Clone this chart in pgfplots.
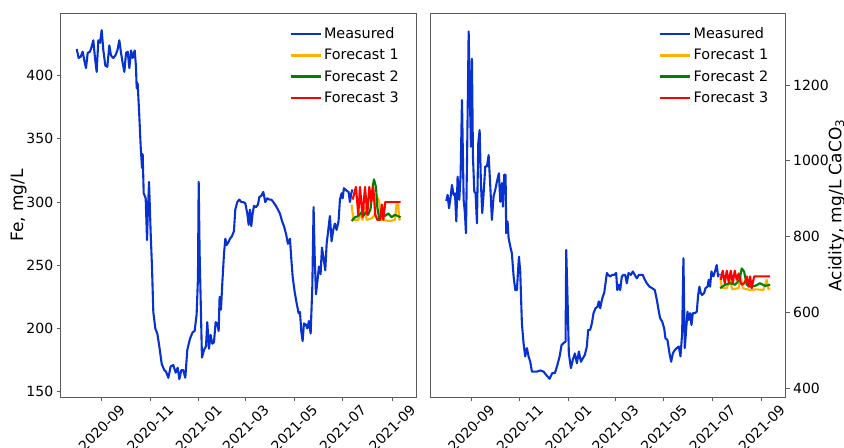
\documentclass[border=0pt]{standalone}
\usepackage{fontspec}
\setmainfont{DejaVu Sans}
\usepackage{pgfplots}
\usepackage{pgfplotstable}
\pgfplotsset{compat=1.18}
\definecolor{meas}{RGB}{8,50,208}
\definecolor{fone}{RGB}{255,176,0}
\definecolor{ftwo}{RGB}{0,128,0}
\definecolor{fthree}{RGB}{255,0,0}
\definecolor{frame}{RGB}{90,90,90}

\pgfplotstableread{
d v
-31.4 421
-28.9 414
-26.4 415
-23.9 419
-21.8 412
-19.7 406
-17.6 418
-14.7 419
-12.6 423
-10.5 428
-8.4 414
-6.3 403
-4.2 428
-2.1 426
0 436
2.1 420
4.6 408
7.1 407
9.6 424
11.7 416
14.7 414
17.2 416
19.7 420
22.2 428
24.3 418
26.4 410
28.5 403
30.6 418
32.7 419
34.8 406
36.9 420
38.9 414
41.5 420
43.1 407
44.0 390
45.2 394
47.3 368
49.0 344
50.7 327
51.5 338
52.8 307
55.3 303
57.0 270
57.8 288
59.5 316
61.6 275
63.2 249
64.9 213
67.4 200
69.9 196
72.4 186
75.4 172
78.7 167
80.8 166
83.8 161
86.7 170
90.0 171
93.0 165
95.5 169
97.6 160
100.1 167
102.6 167
105.1 161
107.6 183
111.0 192
114.3 197
116.8 198
119.3 211
121.0 240
121.9 316
123.1 259
124.4 223
126.0 177
128.6 183
131.1 186
132.7 205
134.8 184
136.9 195
139.0 188
141.1 189
143.2 205
145.3 204
147.0 198
148.2 225
149.9 215
151.6 236
153.7 259
155.4 271
157.0 266
159.1 268
161.2 271
163.7 273
166.2 277
167.9 294
170.4 300
172.9 302
175.5 300
178.0 300
180.5 299
183.0 291
184.7 282
186.3 294
188.0 281
189.7 291
191.4 297
193.9 296
196.4 298
198.1 304
200.6 305
203.1 308
205.6 300
208.1 303
210.6 302
213.2 302
215.7 300
219.0 297
221.5 294
224.0 291
226.6 285
229.1 281
231.6 275
234.1 267
236.6 271
238.3 255
240.0 241
242.5 229
245.0 220
247.5 212
249.2 213
250.8 198
252.5 190
254.2 204
256.7 203
258.4 200
260.5 206
262.6 196
264.7 233
266.3 296
267.6 259
269.3 227
270.9 236
273.0 249
275.1 243
276.8 264
278.5 257
281.0 246
282.7 267
284.8 278
286.8 289
288.9 269
291.0 278
293.1 283
295.2 278
297.7 285
299.4 302
301.5 307
302.8 303
304.4 311
307.8 309
310.3 308
312.0 300
313.7 307
315.3 310
}\femeas

\pgfplotstableread{
d v
314.1 298
316.2 286
322.5 286
324.6 290
327.9 286
330.9 296
332.9 286
339.2 287
343.4 290
345.5 305
348.9 300
351.0 286
362.3 285
368.5 286
370.6 298
372.7 298
373.9 286
375.6 287
}\feone

\pgfplotstableread{
d v
314.1 285
318.3 288
322.5 289
326.6 292
328.8 289
332.1 292
335.0 290
338.0 295
340.5 312
342.2 318
344.7 312
346.4 296
348.9 286
351.8 290
356.0 289
360.2 291
364.4 288
368.5 290
375.6 288
}\fetwo

\pgfplotstableread{
d v
315.4 302
319.5 312
322.5 290
324.6 312
327.9 288
330.9 312
333.8 290
336.3 312
338.8 300
341.3 312
343.8 290
346.4 286
349.7 286
352.2 298
354.0 286
356.4 300
375.6 300
}\fethree

\pgfplotstableread{
d v
-31.4 894
-29.7 910
-28.0 875
-26.4 897
-24.3 936
-22.2 910
-20.5 914
-18.8 840
-17.2 958
-15.1 897
-13.4 963
-11.7 1160
-9.6 897
-8.0 862
-6.7 809
-5.0 1055
-3.3 1341
-1.7 1160
-0.4 1037
0.8 1269
2.1 1011
3.8 919
5.4 914
7.1 835
8.8 1046
10.5 1081
12.1 941
13.8 862
15.5 914
17.6 985
19.7 985
21.8 1015
23.9 932
25.9 844
28.0 906
30.1 923
32.2 945
34.7 967
36.4 892
38.5 941
39.8 879
41.4 963
43.1 963
43.9 809
45.6 840
46.9 796
49.0 774
51.0 756
53.2 695
55.3 659
57.3 659
59.9 747
61.5 708
63.6 571
65.7 519
67.8 484
69.9 506
72.0 484
74.1 470
76.2 444
82.5 444
86.6 447
90.8 444
94.2 435
98.4 425
101.7 440
105.1 440
107.6 457
111.0 484
113.4 514
115.9 519
118.5 523
119.3 765
121.0 633
122.6 492
125.2 453
127.6 475
130.2 492
132.7 466
135.2 497
137.7 470
140.2 479
142.7 488
145.2 510
146.9 554
149.4 554
151.5 571
153.6 598
156.1 611
158.6 615
160.3 629
162.0 611
163.7 629
165.3 642
167.0 651
168.7 677
170.4 704
172.0 699
174.5 695
177.1 699
179.6 699
182.1 704
183.4 659
185.5 673
187.1 659
189.2 695
191.3 699
193.4 699
195.5 677
197.6 704
200.5 699
203.0 708
205.5 699
208.0 690
210.6 699
213.1 699
215.6 699
217.2 690
220.6 677
224.0 668
227.3 664
230.6 659
233.2 633
235.7 602
237.3 585
239.9 576
242.4 558
244.0 532
246.6 527
249.1 492
251.2 470
253.3 492
255.8 501
258.3 506
260.8 510
262.9 484
265.0 545
266.6 743
268.3 506
270.0 554
271.7 602
273.3 580
275.0 598
276.7 567
278.4 598
280.9 598
283.4 602
285.1 646
286.7 668
288.4 651
290.1 646
292.6 651
294.3 664
296.8 668
298.4 686
300.1 668
301.8 708
304.3 695
306.8 712
308.4 725
310.2 695
311.8 699
314.4 699
}\acmeas

\pgfplotstableread{
d v
312.7 699
314.8 664
321.1 664
325.2 686
327.8 661
335.7 664
338.6 695
341.1 664
350.4 659
358.7 661
367.1 659
371.3 686
373.4 661
375.5 664
}\acone

\pgfplotstableread{
d v
312.7 664
319.0 673
325.2 677
331.5 673
337.0 686
339.9 716
342.8 708
346.2 673
350.4 668
356.6 670
362.9 677
369.2 670
375.5 673
}\actwo

\pgfplotstableread{
d v
313.5 686
316.0 710
318.5 677
321.1 710
323.6 679
326.1 710
328.6 677
331.1 710
333.6 686
336.1 703
338.6 677
341.1 673
344.1 681
346.2 695
348.3 668
350.4 695
352.4 664
355.4 695
375.5 695
}\acthree

\pgfplotsset{
  base/.style={
    scale only axis, width=355.3bp, height=383bp,
    xmin=-51.5, xmax=395,
    xtick={0,61,122,181,242,303,365},
    xticklabels={2020-09,2020-11,2021-01,2021-03,2021-05,2021-07,2021-09},
    xticklabel style={rotate=45, anchor=center},
    xticklabel shift=27bp,
    tick align=outside,
    major tick length=4bp,
    tick style={color=frame, line width=0.8bp},
    axis line style={color=frame, line width=1bp},
    every tick label/.append style={font=\fontsize{14bp}{16bp}\selectfont, text=black},
    /pgf/number format/assume math mode=true,
    /pgf/number format/1000 sep={},
    scaled ticks=false,
    legend style={draw=none, fill=none, at={(0.966,0.975)}, anchor=north east,
      font=\fontsize{14.4bp}{16bp}\selectfont, row sep=5.2bp,
      nodes={inner sep=2bp}},
    legend cell align=left,
    legend image code/.code={\draw[##1, line width=2.4bp] (0bp,0bp) -- (30bp,0bp);},
    every axis plot/.append style={line width=2.1bp, line join=round},
  }
}

\begin{document}
\begin{tikzpicture}
\begin{axis}[base, name=left,
  ymin=145.8, ymax=448.8,
  ytick={150,200,250,300,350,400},
  tick pos=left,
  ylabel={Fe, mg/L},
  every axis y label/.style={at={(axis description cs:-0.118,0.5)}, rotate=90, anchor=center, font=\fontsize{17bp}{20bp}\selectfont},
]
\addplot[meas] table[x=d,y=v]{\femeas};
\addplot[fone] table[x=d,y=v]{\feone};
\addplot[ftwo] table[x=d,y=v]{\fetwo};
\addplot[fthree] table[x=d,y=v]{\fethree};
\legend{Measured,Forecast 1,Forecast 2,Forecast 3}
\end{axis}
\begin{axis}[base, name=right, at={(369.6bp,0)},
  ymin=377, ymax=1387,
  ytick={400,600,800,1000,1200},
  xtick pos=left, ytick pos=right, yticklabel pos=right,
  ylabel={Acidity, mg/L CaCO\textsubscript{3}},
  every axis y label/.style={at={(axis description cs:1.1435,0.5)}, rotate=90, anchor=center, font=\fontsize{17bp}{20bp}\selectfont},
]
\addplot[meas] table[x=d,y=v]{\acmeas};
\addplot[fone] table[x=d,y=v]{\acone};
\addplot[ftwo] table[x=d,y=v]{\actwo};
\addplot[fthree] table[x=d,y=v]{\acthree};
\legend{Measured,Forecast 1,Forecast 2,Forecast 3}
\end{axis}
\pgfresetboundingbox
\path[use as bounding box] (-60.7bp,-51bp) rectangle (783.3bp,397bp);
\end{tikzpicture}
\end{document}
